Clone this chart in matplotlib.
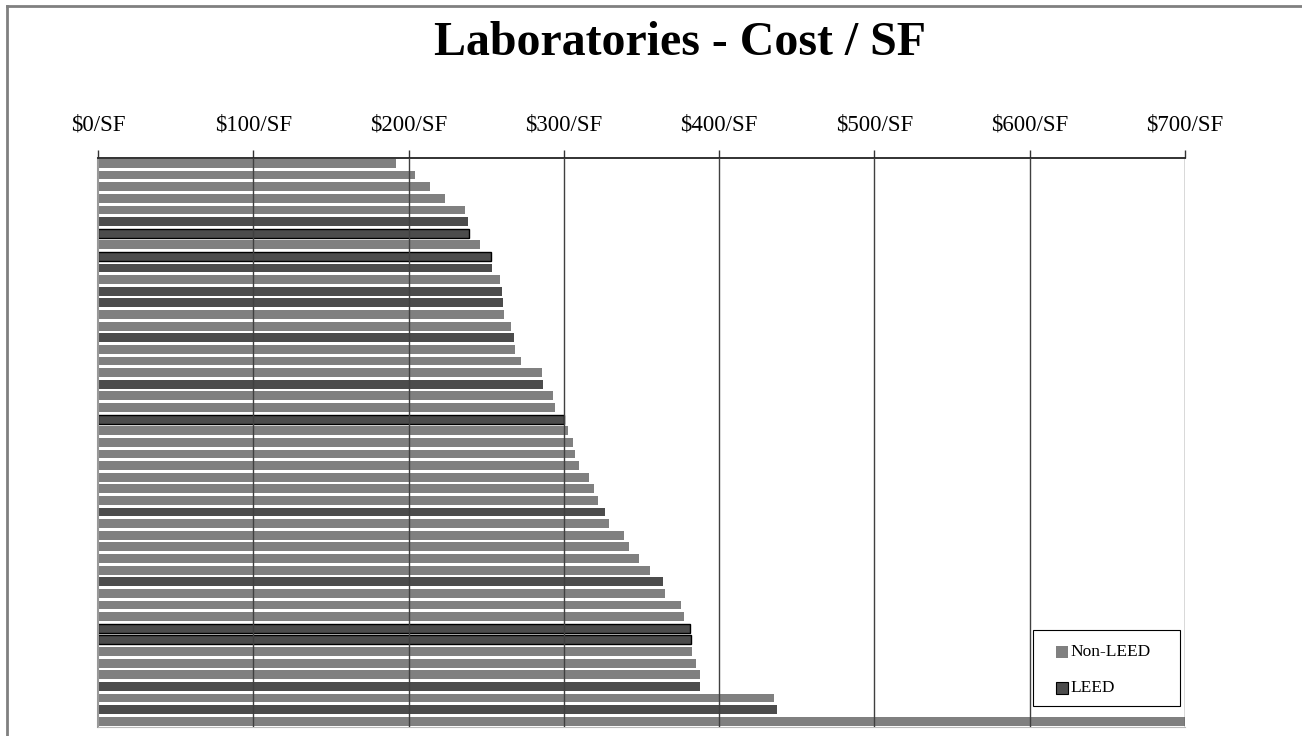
"""
Laboratories - Cost / SF, horizontal bar chart (LEED vs Non-LEED).
"""
import matplotlib
matplotlib.use("Agg")
import matplotlib.pyplot as plt
from matplotlib.patches import Rectangle
from matplotlib.lines import Line2D
from matplotlib.ticker import FuncFormatter

# cost per SF, top bar first
cost_per_sf = [191.8, 204.1, 213.7, 223.4, 236.3, 238.2, 238.9, 245.9, 252.8, 253.7,
               258.8, 260.1, 260.7, 261.4, 265.9, 267.8, 268.5, 272.4, 285.8, 286.5,
               292.9, 294.2, 300.0, 302.6, 305.8, 307.1, 309.7, 316.1, 319.3, 321.9,
               326.4, 329.0, 338.6, 342.0, 348.5, 355.6, 363.9, 365.1, 375.6, 377.5,
               381.1, 381.8, 382.7, 385.1, 387.6, 387.6, 435.3, 437.2, 700.0]
# 1 = LEED project, 0 = Non-LEED
is_leed = [0, 0, 0, 0, 0, 1, 1, 0, 1, 1,
           0, 1, 1, 0, 0, 1, 0, 0, 0, 1,
           0, 0, 1, 0, 0, 0, 0, 0, 0, 0,
           1, 0, 0, 0, 0, 0, 1, 0, 0, 0,
           1, 1, 0, 0, 0, 1, 0, 1, 0]
# LEED bars drawn with a black outline in the original
outlined = [6, 8, 22, 40, 41]
x_ticks = [0, 100, 200, 300, 400, 500, 600, 700]
legend_labels = ["Non-LEED", "LEED"]

light = "#808080"
dark = "#4c4c4c"
plt.rcParams["font.family"] = ["Liberation Serif", "DejaVu Serif"]

W, H = 1302, 736
fig = plt.figure(figsize=(W / 100, H / 100), dpi=100)
ax = fig.add_axes([98 / W, 1 - 727 / H, (1185 - 98) / W, (727 - 158) / H])

pos = list(range(len(cost_per_sf)))
colors = [dark if l else light for l in is_leed]
edges = ["black" if i in outlined else "none" for i in pos]
ax.barh(pos, cost_per_sf, height=0.76, color=colors, edgecolor=edges,
        linewidth=1.0, zorder=2)

ax.set_xlim(0, 700)
ax.set_ylim(48.5, -0.47)
ax.set_xticks(x_ticks)
ax.xaxis.set_major_formatter(FuncFormatter(lambda v, p: "$%d/SF" % v))
ax.xaxis.tick_top()
ax.tick_params(axis="x", which="major", direction="out", length=6, width=1,
               color="#333333", labelsize=16.5, pad=10)
ax.set_yticks([])
for x in x_ticks[1:]:
    ax.axvline(x, color="#404040", lw=1, zorder=3)

ax.spines["top"].set_color("#222222")
ax.spines["top"].set_linewidth(1.3)
ax.spines["left"].set_color("#999999")
ax.spines["left"].set_linewidth(1.5)
ax.spines["bottom"].set_color("#bbbbbb")
ax.spines["right"].set_visible(False)

fig.text(0.5 * (434 + 927) / W, 1 - 43 / H, "Laboratories - Cost / SF",
         ha="center", va="center", fontsize=34.5, fontweight="bold")

# legend box, drawn by hand in pixel coordinates
px = lambda x, y: (x / W, 1 - y / H)
fig.add_artist(Rectangle(px(1033, 706), 147 / W, 76 / H, transform=fig.transFigure,
                         facecolor="white", edgecolor="black", lw=0.8, zorder=5))
for label, col, ec, yc in zip(legend_labels, [light, dark], ["none", "black"], [652, 688]):
    fig.add_artist(Rectangle(px(1056, yc + 6), 12 / W, 12 / H, transform=fig.transFigure,
                             facecolor=col, edgecolor=ec, lw=0.8, zorder=6))
    fig.text(1070 / W, 1 - yc / H, label, ha="left", va="center", fontsize=12.5, zorder=6)

# grey frame lines on the left and top of the page
fig.add_artist(Line2D([7 / W, 7 / W], [0, 1 - 6 / H], color="#808080", lw=2,
                      transform=fig.transFigure))
fig.add_artist(Line2D([7 / W, 1], [1 - 6 / H, 1 - 6 / H], color="#808080", lw=2,
                      transform=fig.transFigure))

fig.savefig("out.png", dpi=100)
